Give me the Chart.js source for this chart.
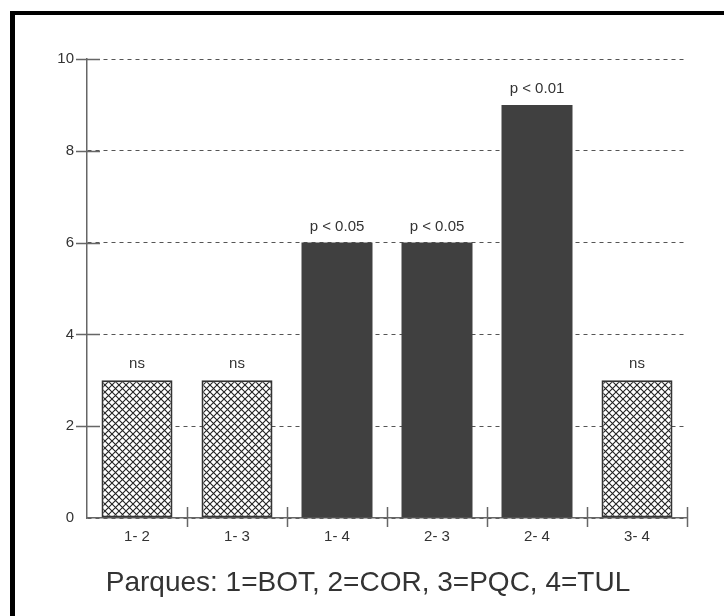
<!DOCTYPE html>
<html>
<head>
<meta charset="utf-8">
<script src="https://cdn.jsdelivr.net/npm/chart.js@4"></script>
<style>
  html, body { margin: 0; padding: 0; background: #fff; }
  #pairsChart { position: absolute; left: 0; top: 0; }
</style>
</head>
<body>
<canvas id="pairsChart" width="724" height="616"></canvas>
<script>
// pairwise comparisons between parks
const pairs = ['1- 2', '1- 3', '1- 4', '2- 3', '2- 4', '3- 4'];
const counts = [3, 3, 6, 6, 9, 3];
const pLabels = ['ns', 'ns', 'p < 0.05', 'p < 0.05', 'p < 0.01', 'ns'];
const yMin = 0;
const yMax = 10;
const yStep = 2;
const caption = 'Parques: 1=BOT, 2=COR, 3=PQC, 4=TUL';

const FONT = "'Liberation Sans', Arial, sans-serif";
const AXIS = '#666';
const DARK = '#404040';

// cross hatch used for the non significant pairs
function makeHatch() {
    const s = 7;
    const c = document.createElement('canvas');
    c.width = s;
    c.height = s;
    const g = c.getContext('2d');
    g.fillStyle = '#fff';
    g.fillRect(0, 0, s, s);
    g.strokeStyle = '#222';
    g.lineWidth = 1.1;
    g.beginPath();
    g.moveTo(0, 0); g.lineTo(s, s);
    g.moveTo(s, 0); g.lineTo(0, s);
    g.stroke();
    return g.createPattern(c, 'repeat');
}
const hatch = makeHatch();

const isNs = pLabels.map(p => p === 'ns');
const fills = isNs.map(ns => ns ? hatch : DARK);
const borders = isNs.map(ns => ns ? '#333' : DARK);
const borderWidths = isNs.map(ns => ns ? 2 : 0);

// black frame on the top and left edges
const framePlugin = {
    id: 'frame',
    beforeDraw(chart) {
        const ctx = chart.ctx;
        ctx.save();
        ctx.fillStyle = '#000';
        ctx.fillRect(10, 11, 5, chart.height - 11);
        ctx.fillRect(10, 11, chart.width - 10, 4);
        ctx.restore();
    }
};

// tick marks crossing the axes
const crossTicks = {
    id: 'crossTicks',
    afterDatasetsDraw(chart) {
        const ctx = chart.ctx;
        const x = chart.scales.x;
        const y = chart.scales.y;
        const area = chart.chartArea;
        ctx.save();
        ctx.strokeStyle = AXIS;
        ctx.lineWidth = 1.5;
        ctx.beginPath();
        y.ticks.forEach(t => {
            if (t.value === yMin) return;
            const py = Math.round(y.getPixelForValue(t.value)) + 0.5;
            ctx.moveTo(area.left - 11, py);
            ctx.lineTo(area.left + 13, py);
        });
        const w = (x.right - x.left) / pairs.length;
        for (let i = 1; i <= pairs.length; i++) {
            const px = Math.round(x.left + i * w) + 0.5;
            ctx.moveTo(px, area.bottom - 11);
            ctx.lineTo(px, area.bottom + 9);
        }
        ctx.stroke();
        ctx.restore();
    }
};

// significance text over each bar
const pText = {
    id: 'pText',
    afterDatasetsDraw(chart) {
        const ctx = chart.ctx;
        const meta = chart.getDatasetMeta(0);
        ctx.save();
        ctx.font = '15px ' + FONT;
        ctx.fillStyle = '#333';
        ctx.textAlign = 'center';
        ctx.textBaseline = 'alphabetic';
        meta.data.forEach((bar, i) => {
            ctx.fillText(pLabels[i], bar.x, bar.y - 12);
        });
        ctx.restore();
    }
};

// legend line for the park codes
const captionPlugin = {
    id: 'caption',
    afterDraw(chart) {
        const ctx = chart.ctx;
        ctx.save();
        ctx.font = '28px ' + FONT;
        ctx.fillStyle = '#333';
        ctx.textAlign = 'center';
        ctx.textBaseline = 'alphabetic';
        ctx.fillText(caption, 368, 591);
        ctx.restore();
    }
};

const ctx = document.getElementById('pairsChart').getContext('2d');
new Chart(ctx, {
    type: 'bar',
    data: {
        labels: pairs,
        datasets: [{
            data: counts,
            backgroundColor: fills,
            borderColor: borders,
            borderWidth: borderWidths,
            borderSkipped: false,
            barPercentage: 0.71,
            categoryPercentage: 1.0
        }]
    },
    options: {
        responsive: false,
        animation: false,
        events: [],
        layout: {
            padding: { left: 15, top: 59, right: 37, bottom: 0 }
        },
        plugins: {
            legend: { display: false },
            tooltip: { enabled: false }
        },
        scales: {
            x: {
                offset: true,
                grid: { display: false, drawTicks: false },
                border: { color: AXIS, width: 1.5 },
                ticks: {
                    padding: 10,
                    color: '#333',
                    font: { family: FONT, size: 15 },
                    maxRotation: 0
                },
                afterFit(scale) { scale.height = 98; }
            },
            y: {
                min: yMin,
                max: yMax,
                grid: {
                    drawTicks: false,
                    color: '#555',
                    lineWidth: 1
                },
                border: { color: AXIS, width: 1.5, dash: [4, 4] },
                ticks: {
                    stepSize: yStep,
                    padding: 13,
                    color: '#333',
                    font: { family: FONT, size: 15 }
                },
                afterFit(scale) { scale.width = 72; }
            }
        }
    },
    plugins: [framePlugin, crossTicks, pText, captionPlugin]
});
</script>
</body>
</html>
